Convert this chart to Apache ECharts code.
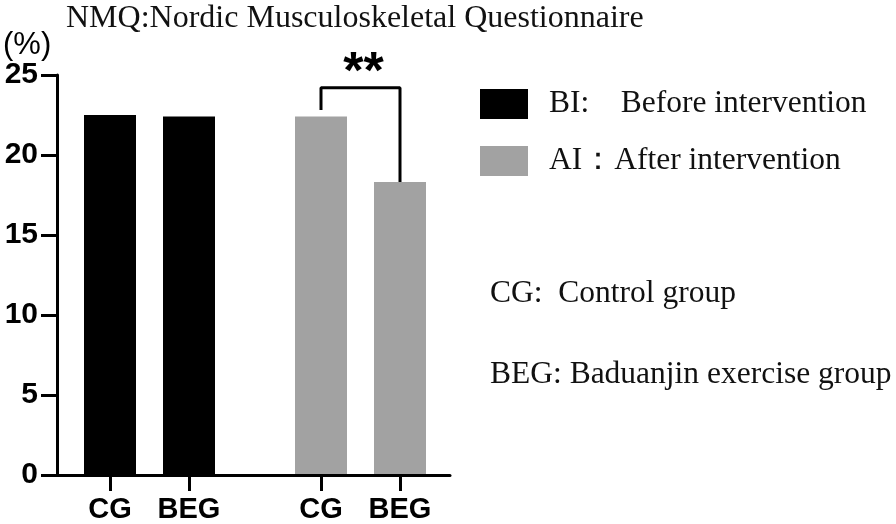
<!DOCTYPE html>
<html>
<head>
<meta charset="utf-8">
<script src="https://cdn.jsdelivr.net/npm/echarts@6/dist/echarts.min.js"></script>
<style>html,body{margin:0;padding:0;background:#fff;}#c{width:896px;height:524px;}</style>
</head>
<body>
<div id="c"></div>
<script>
const chartTitle = 'NMQ:Nordic Musculoskeletal Questionnaire';
const yUnit = '(%)';
const categories = ['CG', 'BEG'];
const seriesNames = ['BI:    Before intervention', 'AI：After intervention'];
const biValues = [22.5, 22.4];
const aiValues = [22.4, 18.3];
const yTicks = { min: 0, max: 25, interval: 5 };
const bracketLeftBottom = 22.8;
const bracketTop = 24.2;
const bracketRightBottom = 18.3;
const sigText = '**';
const notes = ['CG:  Control group', 'BEG: Baduanjin exercise group'];

const SANS = '"Liberation Sans", Arial, sans-serif';
const SERIF = '"Liberation Serif", "Times New Roman", serif';
const serifStyle = { fontFamily: SERIF, fontSize: 31, color: '#111', fontWeight: 'normal' };

const chart = echarts.init(document.getElementById('c'), null, { renderer: 'canvas' });

function catXAxis(gridIndex) {
  return {
    type: 'category', gridIndex, data: categories,
    axisLine: { show: false },
    axisTick: { show: true, alignWithLabel: true, length: 17, lineStyle: { color: '#000', width: 3 } },
    axisLabel: { interval: 0, margin: 21, fontFamily: SANS, fontWeight: 'bold', fontSize: 29, color: '#000' },
    splitLine: { show: false }
  };
}
function hiddenY(gridIndex) {
  return { type: 'value', gridIndex, min: yTicks.min, max: yTicks.max, interval: yTicks.interval, show: false, splitLine: { show: false } };
}

const option = {
  animation: false,
  backgroundColor: '#fff',
  title: [
    { text: chartTitle, left: 66, top: 3, padding: 0, textStyle: Object.assign({}, serifStyle, { fontSize: 32 }) },
    { text: yUnit, left: 3, top: 30, padding: 0, textStyle: { fontFamily: SANS, fontSize: 31, color: '#000', fontWeight: 'normal' } },
    { text: notes[0], left: 490, top: 278, padding: 0, textStyle: Object.assign({}, serifStyle, { fontSize: 31.5 }) },
    { text: notes[1], left: 490, top: 359, padding: 0, textStyle: Object.assign({}, serifStyle, { fontSize: 31.5 }) }
  ],
  legend: {
    data: seriesNames,
    orient: 'vertical', left: 480, top: 88, padding: 0,
    icon: 'rect', itemWidth: 48, itemHeight: 30, itemGap: 25,
    selectedMode: false,
    textStyle: Object.assign({}, serifStyle, { fontSize: 31.5, padding: [0, 0, 0, 16] })
  },
  grid: [
    { left: 57, right: 446, top: 75, bottom: 49 },
    { left: 70.5, width: 158, top: 75, bottom: 49 },
    { left: 281.5, width: 158, top: 75, bottom: 49 }
  ],
  xAxis: [
    { type: 'value', gridIndex: 0, min: 0, max: 1, axisLine: { show: true, onZero: false, lineStyle: { color: '#000', width: 3 } }, axisTick: { show: false }, axisLabel: { show: false }, splitLine: { show: false } },
    catXAxis(1),
    catXAxis(2)
  ],
  yAxis: [
    {
      type: 'value', gridIndex: 0, min: yTicks.min, max: yTicks.max, interval: yTicks.interval,
      axisLine: { show: true, lineStyle: { color: '#000', width: 3 } },
      axisTick: { show: true, length: 16, lineStyle: { color: '#000', width: 3 } },
      axisLabel: { margin: 19, fontFamily: SANS, fontWeight: 'bold', fontSize: 30, color: '#000' },
      splitLine: { show: false }
    },
    hiddenY(1),
    hiddenY(2)
  ],
  series: [
    { name: seriesNames[0], type: 'bar', xAxisIndex: 1, yAxisIndex: 1, data: biValues, barWidth: 52, itemStyle: { color: '#000' } },
    { name: seriesNames[1], type: 'bar', xAxisIndex: 2, yAxisIndex: 2, data: aiValues, barWidth: 52, itemStyle: { color: '#a2a2a2' } },
    {
      name: 'bracket', type: 'line', xAxisIndex: 2, yAxisIndex: 2, symbol: 'none', silent: true, z: 5,
      lineStyle: { color: '#000', width: 3 },
      data: [[categories[0], bracketLeftBottom], [categories[0], bracketTop], [categories[1], bracketTop], [categories[1], bracketRightBottom]]
    }
  ]
};
chart.setOption(option);

const p1 = chart.convertToPixel({ xAxisIndex: 2, yAxisIndex: 2 }, [categories[0], bracketTop]);
const p2 = chart.convertToPixel({ xAxisIndex: 2, yAxisIndex: 2 }, [categories[1], bracketTop]);
chart.setOption({
  graphic: [{
    type: 'text', x: (p1[0] + p2[0]) / 2 + 3, y: p1[1] + 12,
    style: { text: sigText, align: 'center', verticalAlign: 'bottom', fontFamily: SANS, fontWeight: 'bold', fontSize: 52, fill: '#000' }
  }]
});
</script>
</body>
</html>
